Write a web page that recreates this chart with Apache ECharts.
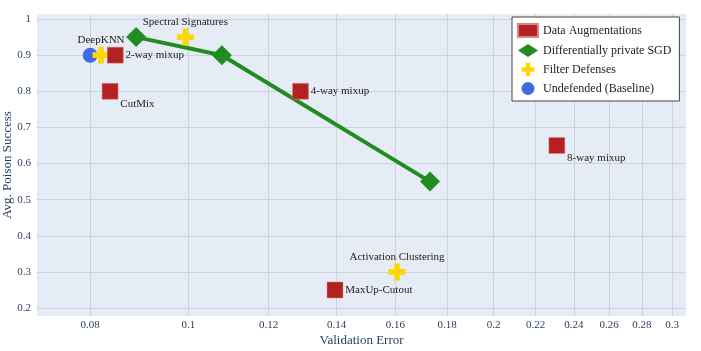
<!DOCTYPE html>
<html>
<head>
<meta charset="utf-8">
<script src="https://cdn.jsdelivr.net/npm/echarts@6/dist/echarts.min.js"></script>
<style>
  html, body { margin: 0; padding: 0; background: #fff; }
  #chart { width: 701px; height: 351px; }
</style>
</head>
<body>
<div id="chart"></div>
<script>
// values
const augNames = ['2-way mixup', 'CutMix', '4-way mixup', '8-way mixup', 'MaxUp-Cutout']
const augX = [0.0847, 0.0837, 0.129, 0.2309, 0.1395]
const augY = [0.9, 0.8, 0.8, 0.65, 0.25]
const augLabelPos = ['right', 'bottomRight', 'right', 'bottomRight', 'right']

const dpX = [0.0888, 0.1079, 0.1731]
const dpY = [0.95, 0.9, 0.55]

const filterNames = ['DeepKNN', 'Spectral Signatures', 'Activation Clustering']
const filterX = [0.0820, 0.0993, 0.1606]
const filterY = [0.9, 0.95, 0.3]
const filterLabelPos = ['top', 'top', 'top']

const baseX = [0.08]
const baseY = [0.9]

const xTicks = [0.08, 0.1, 0.12, 0.14, 0.16, 0.18, 0.2, 0.22, 0.24, 0.26, 0.28, 0.3]
const yTicks = [0.2, 0.3, 0.4, 0.5, 0.6, 0.7, 0.8, 0.9, 1]

const plus = 'path://M1,0H2V1H3V2H2V3H1V2H0V1H1Z'
const serif = '"Liberation Serif", "DejaVu Serif", serif'
const tickColor = '#2a3f5f'

function labelOffset(pos) {
  if (pos === 'bottomRight') return { position: 'right', offset: [-3, 13] }
  if (pos === 'top') return { position: 'top', offset: [0, 4] }
  return { position: 'right', offset: [-3, 0] }
}

const chart = echarts.init(document.getElementById('chart'))

chart.setOption({
  animation: false,
  backgroundColor: '#ffffff',
  grid: {
    left: 37, right: 15, top: 14, bottom: 35,
    outerBoundsMode: 'none', containLabel: false,
    backgroundColor: '#E5ECF6', show: true, borderWidth: 0
  },
  xAxis: {
    type: 'log',
    logBase: 10,
    min: 0.0709,
    max: 0.3096,
    name: 'Validation Error',
    nameLocation: 'middle',
    nameGap: 18,
    nameMoveOverlap: false,
    nameTextStyle: { fontFamily: serif, fontSize: 13, color: tickColor },
    axisLine: { show: false },
    axisTick: { show: false, customValues: xTicks },
    axisLabel: {
      customValues: xTicks,
      fontFamily: serif,
      fontSize: 11,
      color: tickColor,
      margin: 4,
      formatter: v => String(+v.toFixed(2))
    },
    splitLine: { show: true, lineStyle: { color: '#cdd3de', width: 1 } }
  },
  yAxis: {
    type: 'value',
    min: 0.178,
    max: 1.014,
    name: 'Avg. Poison Success',
    nameLocation: 'middle',
    nameGap: 23,
    nameMoveOverlap: false,
    nameTextStyle: { fontFamily: serif, fontSize: 13, color: tickColor },
    axisLine: { show: false },
    axisTick: { show: false, customValues: yTicks },
    axisLabel: {
      customValues: yTicks,
      fontFamily: serif,
      fontSize: 11,
      color: tickColor,
      margin: 6,
      formatter: v => String(+v.toFixed(1))
    },
    splitLine: { show: true, lineStyle: { color: '#cdd3de', width: 1 } }
  },
  legend: {
    orient: 'vertical',
    left: 512,
    top: 17,
    padding: [6, 8, 6, 5],
    itemGap: 6,
    itemWidth: 20,
    itemHeight: 13,
    backgroundColor: '#ffffff',
    borderColor: '#444444',
    borderWidth: 1,
    textStyle: { fontFamily: serif, fontSize: 12, color: '#222' },
    data: [
      { name: 'Data Augmentations', icon: 'rect' },
      { name: 'Differentially private SGD', icon: 'diamond' },
      { name: 'Filter Defenses', icon: plus },
      { name: 'Undefended (Baseline)', icon: 'circle' }
    ]
  },
  series: [
    {
      name: 'Data Augmentations',
      type: 'scatter',
      z: 4,
      symbol: 'rect',
      symbolSize: 16,
      itemStyle: { color: '#B22222', opacity: 1, borderColor: '#e08585', borderWidth: 0.5 },
      data: augX.map((x, i) => ({
        value: [x, augY[i]],
        label: Object.assign({ show: true, formatter: augNames[i] }, labelOffset(augLabelPos[i]))
      })),
      label: { fontFamily: serif, fontSize: 11, color: '#222' }
    },
    {
      name: 'Differentially private SGD',
      type: 'line',
      z: 2,
      symbol: 'diamond',
      symbolSize: 20,
      lineStyle: { color: '#228B22', width: 4 },
      itemStyle: { color: '#228B22', opacity: 1 },
      data: dpX.map((x, i) => [x, dpY[i]])
    },
    {
      name: 'Filter Defenses',
      type: 'scatter',
      z: 3,
      symbol: plus,
      symbolSize: 17,
      itemStyle: { color: '#FFD700', opacity: 1 },
      data: filterX.map((x, i) => ({
        value: [x, filterY[i]],
        label: Object.assign({ show: true, formatter: filterNames[i] }, labelOffset(filterLabelPos[i]))
      })),
      label: { fontFamily: serif, fontSize: 11, color: '#222' }
    },
    {
      name: 'Undefended (Baseline)',
      type: 'scatter',
      z: 2,
      symbol: 'circle',
      symbolSize: 15,
      itemStyle: { color: '#4169E1', opacity: 1 },
      data: baseX.map((x, i) => [x, baseY[i]])
    }
  ]
})
</script>
</body>
</html>
